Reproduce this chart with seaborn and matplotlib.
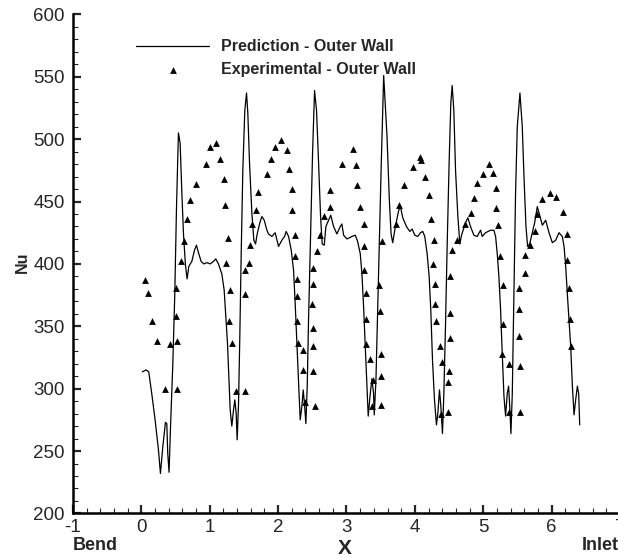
import numpy as np
import pandas as pd
import seaborn as sns
from matplotlib import pyplot as plt
from matplotlib.ticker import MultipleLocator

# prediction along the outer wall
pred_x = [0.015, 0.07, 0.108, 0.152, 0.201, 0.25, 0.279, 0.313, 0.352, 0.372, 0.386, 0.405, 0.43, 0.459,
          0.489, 0.513, 0.542, 0.567, 0.591, 0.616, 0.645, 0.669, 0.694, 0.738, 0.777, 0.806, 0.835, 0.874,
          0.913, 0.957, 1.006, 1.055, 1.088, 1.127, 1.177, 1.211, 1.235, 1.26, 1.279, 1.299, 1.323, 1.348,
          1.367, 1.387, 1.401, 1.421, 1.44, 1.46, 1.484, 1.513, 1.538, 1.557, 1.582, 1.616, 1.645, 1.67,
          1.694, 1.733, 1.763, 1.797, 1.836, 1.86, 1.909, 1.957, 2.006, 2.055, 2.094, 2.118, 2.153, 2.192,
          2.226, 2.25, 2.275, 2.299, 2.323, 2.348, 2.367, 2.387, 2.406, 2.426, 2.445, 2.475, 2.504, 2.533,
          2.562, 2.592, 2.621, 2.645, 2.675, 2.699, 2.738, 2.77, 2.811, 2.86, 2.909, 2.933, 2.958, 3.007,
          3.08, 3.129, 3.163, 3.202, 3.226, 3.25, 3.275, 3.299, 3.318, 3.348, 3.372, 3.396, 3.406, 3.431,
          3.455, 3.484, 3.509, 3.544, 3.593, 3.627, 3.652, 3.676, 3.715, 3.764, 3.789, 3.823, 3.877, 3.926,
          3.96, 3.999, 4.043, 4.082, 4.116, 4.145, 4.18, 4.209, 4.233, 4.258, 4.287, 4.316, 4.336, 4.36,
          4.38, 4.404, 4.424, 4.448, 4.473, 4.502, 4.526, 4.546, 4.57, 4.595, 4.629, 4.658, 4.683, 4.741,
          4.775, 4.814, 4.863, 4.912, 4.961, 4.985, 5.034, 5.107, 5.156, 5.181, 5.205, 5.229, 5.254, 5.278,
          5.303, 5.327, 5.351, 5.371, 5.39, 5.405, 5.425, 5.449, 5.473, 5.498, 5.537, 5.571, 5.596, 5.625,
          5.649, 5.679, 5.718, 5.752, 5.791, 5.83, 5.865, 5.913, 5.962, 6.011, 6.06, 6.108, 6.157, 6.182,
          6.206, 6.23, 6.255, 6.279, 6.304, 6.328, 6.352, 6.377, 6.396, 6.411]
pred_nu = [313.5, 315, 313.5, 296, 275, 251, 232, 253, 273, 272, 248, 233, 275, 318,
           376, 443, 505, 497, 459, 424, 399, 388, 398, 402, 411, 415, 409, 402,
           400, 401, 400, 402, 404, 400, 392, 379, 358, 336, 310, 283, 270, 283,
           291, 280, 259, 288, 342, 408, 475, 523, 537, 521, 481, 441, 419, 416,
           424, 433, 438, 435, 427, 424, 422, 425, 414, 419, 422, 426, 422, 411,
           395, 368, 336, 304, 275, 286, 299, 287, 272, 302, 355, 422, 489, 539,
           523, 481, 438, 416, 415, 430, 435, 439, 430, 424, 430, 432, 423, 420,
           422, 423, 418, 408, 392, 366, 334, 302, 278, 296, 308, 296, 279, 307,
           360, 427, 481, 551, 502, 451, 424, 417, 430, 443, 446, 437, 430, 426,
           428, 423, 422, 425, 426, 422, 408, 390, 363, 323, 291, 271, 280, 299,
           286, 264, 296, 350, 416, 483, 529, 543, 523, 475, 438, 416, 423, 433,
           437, 430, 423, 422, 427, 422, 425, 427, 427, 422, 408, 390, 363, 328,
           294, 278, 296, 302, 283, 264, 296, 376, 457, 510, 537, 510, 470, 430,
           414, 416, 425, 433, 446, 438, 431, 435, 425, 417, 419, 425, 422, 414,
           398, 376, 355, 334, 302, 279, 291, 302, 296, 271]

# experimental points
exp_x = [0.05, 0.09, 0.16, 0.23, 0.35, 0.42, 0.51, 0.51, 0.52, 0.52, 0.58, 0.63, 0.67, 0.71, 0.80, 0.94,
         1.01, 1.09, 1.15, 1.21, 1.23, 1.26, 1.24, 1.29, 1.28, 1.33, 1.38,
         1.52, 1.51, 1.51, 1.58, 1.59, 1.62, 1.67, 1.71, 1.84, 1.90, 1.96, 2.04, 2.13, 2.16, 2.20, 2.21,
         2.25, 2.25, 2.27, 2.27, 2.28, 2.29, 2.37, 2.37, 2.39,
         2.54, 2.51, 2.51, 2.51, 2.49, 2.51, 2.51, 2.57, 2.62, 2.67, 2.76, 2.76, 2.94, 3.09, 3.14, 3.16,
         3.20, 3.25, 3.25, 3.26, 3.28, 3.28, 3.28, 3.35, 3.39, 3.38,
         3.51, 3.50, 3.51, 3.49, 3.48, 3.52, 3.73, 3.77, 3.84, 3.97, 4.07, 4.09, 4.15, 4.20, 4.24, 4.28,
         4.26, 4.29, 4.30, 4.31, 4.37, 4.39, 4.38,
         4.49, 4.49, 4.50, 4.52, 4.52, 4.51, 4.55, 4.61, 4.74, 4.82, 4.87, 4.91, 5.00, 5.08, 5.15, 5.19,
         5.19, 5.21, 5.24, 5.29, 5.29, 5.28, 5.37, 5.38,
         5.54, 5.54, 5.52, 5.53, 5.52, 5.61, 5.61, 5.68, 5.76, 5.78, 5.86, 5.98, 6.07, 6.17, 6.22, 6.22,
         6.25, 6.27, 6.28]
exp_nu = [387, 377, 354, 338, 300, 336, 381, 358, 338, 300, 402, 418, 436, 451, 464, 480,
          494, 497, 484, 468, 447, 421, 401, 379, 354, 337, 298,
          298, 376, 395, 401, 415, 432, 443, 458, 472, 484, 494, 499, 491, 476, 460, 443,
          423, 406, 388, 374, 354, 337, 331, 315, 289,
          286, 314, 334, 349, 368, 384, 397, 410, 423, 438, 446, 459, 480, 492, 479, 463,
          446, 432, 414, 395, 377, 356, 336, 324, 307, 286,
          287, 310, 328, 362, 383, 418, 432, 447, 463, 478, 486, 483, 470, 455, 436, 419,
          400, 384, 368, 354, 334, 321, 280,
          281, 305, 314, 341, 361, 390, 411, 419, 432, 441, 453, 465, 472, 480, 473, 461,
          445, 431, 406, 383, 352, 328, 320, 281,
          281, 318, 342, 364, 381, 393, 407, 415, 426, 440, 452, 457, 454, 442, 424, 403,
          381, 356, 334]

pred = pd.DataFrame({'X': pred_x, 'Nu': pred_nu})
exp = pd.DataFrame({'X': exp_x, 'Nu': exp_nu})

sns.set_style('ticks')
plt.rcParams['font.family'] = ['Liberation Sans', 'DejaVu Sans']
plt.rcParams['axes.unicode_minus'] = False  # plain hyphen on "-1"

fig = plt.figure(figsize=(6.18, 5.58), dpi=100)
ax = fig.add_axes([0.1181, 0.0799, 0.8851, 0.8943])

sns.lineplot(x='X', y='Nu', data=pred, sort=False, estimator=None, color='black',
             linewidth=0.9, label='Prediction - Outer Wall', ax=ax)
sns.scatterplot(x='X', y='Nu', data=exp, marker='^', color='black', s=24, linewidth=0,
                label='Experimental - Outer Wall', ax=ax)

ax.set_xlim(-1, 7)
ax.set_ylim(200, 600)
ax.xaxis.set_major_locator(MultipleLocator(1))
ax.xaxis.set_minor_locator(MultipleLocator(0.2))
ax.yaxis.set_major_locator(MultipleLocator(50))
ax.yaxis.set_minor_locator(MultipleLocator(10))
ax.tick_params(which='major', direction='in', length=6, width=1.6, labelsize=13.5, pad=4)
ax.tick_params(which='minor', direction='in', length=3.5, width=0.8)
ax.tick_params(axis='y', which='major', pad=6)
for s in ['top', 'right']:
    ax.spines[s].set_visible(False)
for s in ['left', 'bottom']:
    ax.spines[s].set_linewidth(1.8)
    ax.spines[s].set_color('black')

ax.set_xlabel('X', fontsize=15, fontweight='bold')
ax.xaxis.set_label_coords(0.497, -0.052)
ax.set_ylabel('Nu', fontsize=11.5, fontweight='bold')
ax.yaxis.set_label_coords(-0.078, 0.504)
ax.text(0.0, -0.047, 'Bend', transform=ax.transAxes, ha='left', va='top',
        fontsize=13, fontweight='bold')
ax.text(0.998, -0.047, 'Inlet', transform=ax.transAxes, ha='right', va='top',
        fontsize=13, fontweight='bold', clip_on=False)

ax.legend(loc='upper left', bbox_to_anchor=(0.115, 0.95), frameon=False, borderpad=0,
          borderaxespad=0, handlelength=4.6, handletextpad=0.75, labelspacing=0.5,
          prop={'weight': 'bold', 'size': 11.5})

plt.savefig('out.png', dpi=100)
